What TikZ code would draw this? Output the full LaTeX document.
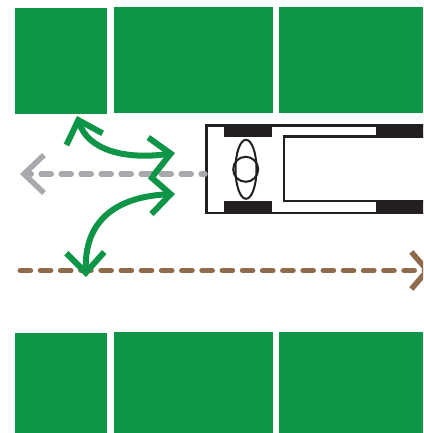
\documentclass[tikz,border=0pt]{standalone}
\usetikzlibrary{arrows.meta,shapes.geometric}
\definecolor{Field}{HTML}{0E9547}
\definecolor{Ash}{HTML}{A7A9AC}
\definecolor{Soil}{HTML}{8F6B4C}
\definecolor{Tyre}{HTML}{231F20}
\tikzset{
  block/.style={fill=Field,inner sep=0pt,minimum width=#1},
  tyre/.style={fill=Tyre,inner sep=0pt,minimum width=48pt},
  outline/.style={draw=Tyre,fill=white,inner sep=0pt},
  swerve/.style={draw=Field,line width=6pt,{Straight Barb[length=20pt,width=38pt,line width=6pt]}-{Straight Barb[length=20pt,width=38pt,line width=6pt]}},
}
\begin{document}
\begin{tikzpicture}[x=1pt,y=-1pt]
      \useasboundingbox (0,0) rectangle (423,433);
      \clip (0,0) rectangle (423,433);

      % crop rows
      \foreach \n/\cx/\cy/\w/\h in {ta/61/61/92/106,tb/193.5/60/159/106,tc/351/60/144/106,
                                    ba/61/383/92/100,bb/193.5/382.5/159/101,bc/351/382.5/144/101} {
        \node[block=\w pt,minimum height=\h pt] (\n) at (\cx,\cy) {};
      }

      % truck body first, the lanes start from it
      \node[outline,line width=2.7pt,minimum width=240pt,minimum height=87.5pt] (body) at (326.3,169.2) {};
      \coordinate (greytip) at (20,174);
      \coordinate (greystart) at (body.west |- greytip);
      \draw[Ash,line width=5.5pt,line cap=round,dash pattern=on 10pt off 10pt,dash phase=6.25pt,
            -{Straight Barb[length=20pt,width=38pt,line cap=butt]}] (greystart) -- (greytip);

      \coordinate (soilstart) at (20.25,270.5);
      \coordinate (soiltip) at (431,270.5);
      \draw[Soil,line width=5.5pt,line cap=round,dash pattern=on 10.2pt off 10pt,
            -{Straight Barb[length=16pt,width=37pt,line cap=butt]}] (soilstart) -- (soiltip);

      % truck parts
      \node[outline,line width=2.4pt,minimum width=170pt,minimum height=64.5pt] (cargo) at (369,168.7) {};
      \node[tyre,minimum height=12pt] (wheelfl) at (248.3,131.3) {};
      \node[tyre,minimum height=13pt] (wheelfr) at (248.3,207.2) {};
      \node[tyre,minimum height=12.5pt] (wheelrl) at (400,130.5) {};
      \node[tyre,minimum height=13.5pt] (wheelrr) at (400,206.8) {};
      \node[ellipse,draw=Tyre,line width=2pt,inner sep=0pt,minimum width=21pt,minimum height=59pt] (seat) at (246,169.3) {};
      \node[circle,draw=Tyre,line width=2pt,inner sep=0pt,minimum size=25pt] (driver) at (245.7,169.3) {};

      % turning arrows
      \coordinate (uptip) at (77,116);
      \coordinate (righttop) at (175,153);
      \coordinate (rightlow) at (175,194);
      \coordinate (downtip) at (86,277);
      \draw[swerve] (uptip) .. controls (88,150) and (125,160) .. (righttop);
      \draw[swerve] (rightlow) .. controls (128,196) and (84,212) .. (downtip);
    \end{tikzpicture}
\end{document}
